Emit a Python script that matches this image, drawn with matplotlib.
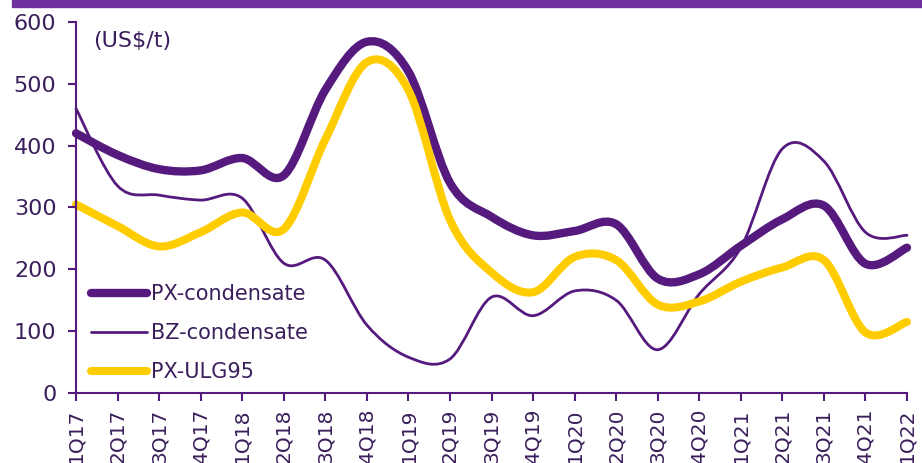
import matplotlib
matplotlib.use("Agg")
import numpy as np
import matplotlib.pyplot as plt
from matplotlib.path import Path
from matplotlib.patches import PathPatch, Rectangle
from matplotlib.lines import Line2D

quarters = ["1Q17", "2Q17", "3Q17", "4Q17", "1Q18", "2Q18", "3Q18", "4Q18",
            "1Q19", "2Q19", "3Q19", "4Q19", "1Q20", "2Q20", "3Q20", "4Q20",
            "1Q21", "2Q21", "3Q21", "4Q21", "1Q22"]
px_condensate = [420, 385, 362, 360, 380, 352, 490, 568, 520, 340, 285,
                 255, 262, 273, 185, 192, 238, 281, 303, 209, 235]
bz_condensate = [460, 335, 320, 312, 315, 210, 215, 110, 58, 55, 155,
                 125, 165, 150, 70, 160, 235, 395, 375, 260, 255]
px_ulg95 = [305, 270, 237, 260, 292, 265, 410, 535, 490, 280, 195,
            163, 220, 215, 143, 148, 180, 203, 215, 98, 115]
yticks = [0, 100, 200, 300, 400, 500, 600]

PURPLE = "#561A7E"
YELLOW = "#FFCC00"
TEXT = "#3B1F5C"
BAND = "#7030A0"


def smooth_path(x, y):
    # smoothed series line: cubic Bezier segments through every data point
    x = np.asarray(x, float)
    y = np.asarray(y, float)
    n = len(x)
    verts = [(x[0], y[0])]
    codes = [Path.MOVETO]
    for i in range(n - 1):
        p0 = i - 1 if i > 0 else i
        p3 = i + 2 if i + 2 < n else i + 1
        c1 = (x[i] + (x[i + 1] - x[p0]) / 6, y[i] + (y[i + 1] - y[p0]) / 6)
        c2 = (x[i + 1] - (x[p3] - x[i]) / 6, y[i + 1] - (y[p3] - y[i]) / 6)
        verts += [c1, c2, (x[i + 1], y[i + 1])]
        codes += [Path.CURVE4] * 3
    return Path(verts, codes)


fig = plt.figure(figsize=(9.22, 4.63), dpi=100)
ax = fig.add_axes([76 / 922, 1 - 393 / 463, (907 - 76) / 922, (393 - 22) / 463])

xs = np.arange(len(quarters))
series = [
    ("PX-condensate", px_condensate, PURPLE, 6.0),
    ("BZ-condensate", bz_condensate, PURPLE, 2.0),
    ("PX-ULG95", px_ulg95, YELLOW, 5.8),
]
handles = []
for label, vals, color, lw in series:
    patch = PathPatch(smooth_path(xs, vals), facecolor="none", edgecolor=color,
                      lw=lw, capstyle="round", joinstyle="round", clip_on=False)
    ax.add_patch(patch)
    handles.append(Line2D([], [], color=color, lw=lw, solid_capstyle="round",
                          label=label))

ax.set_xlim(0, len(quarters) - 1)
ax.set_ylim(0, 600)
ax.set_xticks(xs)
ax.set_xticklabels(quarters, rotation=90, fontsize=14.5, color=TEXT)
ax.set_yticks(yticks)
ax.set_yticklabels([str(v) for v in yticks], fontsize=16, color=TEXT)
for side in ["top", "right"]:
    ax.spines[side].set_visible(False)
for side in ["left", "bottom"]:
    ax.spines[side].set_color(PURPLE)
    ax.spines[side].set_linewidth(1.5)
ax.tick_params(axis="both", colors=PURPLE, length=6, width=1.5,
               labelcolor=TEXT)
ax.tick_params(axis="y", pad=8)
ax.tick_params(axis="x", pad=5)

ax.text(0.42, 570, "(US$/t)", fontsize=16, color=TEXT, va="center")

fig.legend(handles=handles, loc="upper left",
           bbox_to_anchor=(91 / 922, 1 - 284 / 463),
           bbox_transform=fig.transFigure, frameon=False, fontsize=15,
           labelcolor=TEXT, handlelength=2.7, handletextpad=0.2,
           labelspacing=0.92, borderpad=0, borderaxespad=0)

# purple band across the top
fig.patches.append(Rectangle((12 / 922, 1 - 7 / 463), 1, 7 / 463,
                             transform=fig.transFigure, color=BAND,
                             zorder=0))

fig.savefig("out.png", dpi=100)
